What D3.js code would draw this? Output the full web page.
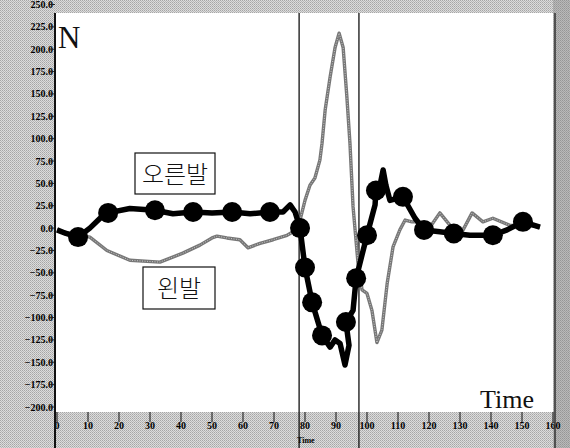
<!DOCTYPE html>
<html>
<head>
<meta charset="utf-8">
<script src="https://cdn.jsdelivr.net/npm/d3@7"></script>
<style>
  body { margin: 0; background: #fff; }
  svg { display: block; }
</style>
</head>
<body>
<div id="chart"></div>
<script>
// Right foot (오른발) force curve
const rightT = [0, 2.9, 6.8, 10.6, 13.9, 16.5, 23.5, 31.6, 37.4, 43.9, 50, 56.5, 62.3, 68.7, 72.9, 75.2, 76.8, 78.4,
  80, 82.3, 85.5, 88.1, 89.7, 91.3, 92.9, 94.2, 93.2, 95.5, 96.5, 98.4, 100, 102.6, 102.9, 104.2, 105.2, 106.1,
  107.4, 111.6, 115.5, 118.4, 123.5, 128, 133.2, 140.6, 145.2, 150.3, 155.8];
const rightV = [-2, -6, -10, 0, 11, 17, 22, 20, 16, 18, 17, 18, 16, 18, 18, 26, 18, 0,
  -44, -83, -120, -133, -125, -129, -153, -131, -105, -92, -56, -30, -8, 26, 42, 48, 65, 48,
  31, 35, 11, -2, -4, -6, -8, -8, -2, 7, 1];

// Dots drawn on the right foot curve
const rightDotT = [6.8, 16.5, 31.6, 43.9, 56.5, 68.7, 78.4, 80, 82.3, 85.5, 93.2, 96.5, 100, 102.9, 111.6, 118.4, 128, 140.6, 150.3];
const rightDotV = [-10, 17, 20, 18, 18, 18, 0, -44, -83, -120, -105, -56, -8, 42, 35, -2, -6, -8, 7];

// Left foot (왼발) force curve
const leftT = [0, 4.2, 10.6, 16.1, 23.5, 33.2, 40.6, 46.1, 50, 51.6, 54.8, 59, 61.6, 65.5, 69.7, 74.2, 76.8, 78.4,
  80, 81.6, 83.2, 84.8, 85.5, 86.5, 88.1, 89.7, 91, 92.3, 93.5, 94.5, 95.5, 97.1, 98.4, 100, 101.6, 103.2, 104.8,
  106.5, 108.4, 110.6, 112.3, 114.5, 116.1, 120.3, 123.5, 126.8, 131, 133.9, 137.4, 140.6, 146.1, 152.6, 155.8];
const leftV = [-2, -6, -10, -25, -36, -38, -28, -19, -11, -9, -11, -13, -22, -17, -13, -8, -3, 9,
  31, 48, 56, 76, 95, 132, 169, 202, 218, 202, 147, 95, 24, -39, -69, -73, -92, -128, -114,
  -62, -21, -2, 9, 7, 7, 1, 17, 3, -2, 17, 7, 11, 3, 3, 1];

// Event marker times (vertical lines)
const markerTimes = [78.1, 97.4];

// Tick values
const yTicks = d3.range(-200, 251, 25);
const xTicks = d3.range(0, 161, 10);

// Labels
const rightLabel = "오른발";
const leftLabel = "왼발";
const yUnit = "N";
const xUnit = "Time";

const W = 570, H = 448;
const plot = { left: 56, top: 13, right: 553, bottom: 412 };

const svg = d3.select("#chart")
  .append("svg")
  .attr("width", W)
  .attr("height", H);

// Halftone pattern for the gray frame
const defs = svg.append("defs");
const pat = defs.append("pattern")
  .attr("id", "tone")
  .attr("width", 2)
  .attr("height", 2)
  .attr("patternUnits", "userSpaceOnUse");
pat.append("rect").attr("width", 2).attr("height", 2).attr("fill", "#dcdcdc");
pat.append("rect").attr("width", 1).attr("height", 1).attr("fill", "#a6a6a6");
pat.append("rect").attr("x", 1).attr("y", 1).attr("width", 1).attr("height", 1).attr("fill", "#b8b8b8");

defs.append("clipPath")
  .attr("id", "clip")
  .append("rect")
  .attr("x", plot.left)
  .attr("y", plot.top)
  .attr("width", plot.right - plot.left)
  .attr("height", plot.bottom - plot.top);

svg.append("rect").attr("width", W).attr("height", H).attr("fill", "url(#tone)");
svg.append("rect").attr("x", plot.right).attr("width", W - plot.right).attr("height", H)
  .attr("fill", "#777").attr("opacity", 0.35);
svg.append("rect")
  .attr("x", plot.left)
  .attr("y", plot.top)
  .attr("width", plot.right - plot.left)
  .attr("height", plot.bottom - plot.top)
  .attr("fill", "#fff");

// Scales
const x = d3.scaleLinear().domain([0, 160]).range([57, 553]);
const y = d3.scaleLinear().domain([-200, 250]).range([407, 4.5]);

// Y axis labels
const fmt = d3.format(".1f");
svg.append("g")
  .selectAll("text")
  .data(yTicks)
  .enter()
  .append("text")
  .attr("x", 53)
  .attr("y", (d) => y(d) + 3.5)
  .attr("text-anchor", "end")
  .style("font-family", "Liberation Serif, serif")
  .style("font-weight", "bold")
  .style("font-size", "10px")
  .attr("fill", "#000")
  .text((d) => fmt(d));

svg.append("g")
  .selectAll("line")
  .data(yTicks)
  .enter()
  .append("line")
  .attr("x1", 49)
  .attr("x2", 55)
  .attr("y1", (d) => y(d))
  .attr("y2", (d) => y(d))
  .attr("stroke", "#222");

// X axis labels and ticks
const xg = svg.append("g");
xg.selectAll("line")
  .data(xTicks)
  .enter()
  .append("line")
  .attr("x1", (d) => x(d))
  .attr("x2", (d) => x(d))
  .attr("y1", plot.bottom)
  .attr("y2", plot.bottom + 10)
  .attr("stroke", "#111");
xg.selectAll("text")
  .data(xTicks)
  .enter()
  .append("text")
  .attr("x", (d) => x(d))
  .attr("y", 429)
  .attr("text-anchor", "middle")
  .style("font-family", "Liberation Serif, serif")
  .style("font-weight", "bold")
  .style("font-size", "10px")
  .attr("fill", "#000")
  .text((d) => d);

svg.append("text")
  .attr("x", 297)
  .attr("y", 443)
  .style("font-family", "Liberation Serif, serif")
  .style("font-weight", "bold")
  .style("font-size", "8px")
  .attr("fill", "#000")
  .text(xUnit);

// Left axis line and right frame line
svg.append("line").attr("x1", 55).attr("x2", 55).attr("y1", plot.top).attr("y2", H)
  .attr("stroke", "#111").attr("stroke-width", 2);
svg.append("line").attr("x1", 555).attr("x2", 555).attr("y1", plot.top).attr("y2", H)
  .attr("stroke", "#333").attr("stroke-width", 1.5);

// Event markers
svg.append("g")
  .selectAll("line")
  .data(markerTimes)
  .enter()
  .append("line")
  .attr("x1", (d) => x(d))
  .attr("x2", (d) => x(d))
  .attr("y1", plot.top)
  .attr("y2", H)
  .attr("stroke", "#111")
  .attr("stroke-width", 1.3);

const g = svg.append("g").attr("clip-path", "url(#clip)");

const line = d3.line()
  .x((d) => x(d[0]))
  .y((d) => y(d[1]));

const leftData = leftT.map((t, i) => [t, leftV[i]]);
const rightData = rightT.map((t, i) => [t, rightV[i]]);

// Left foot: gray textured line
g.append("path")
  .datum(leftData)
  .attr("d", line)
  .attr("fill", "none")
  .attr("stroke", "#777")
  .attr("stroke-width", 3.4)
  .attr("stroke-linejoin", "round");
g.append("path")
  .datum(leftData)
  .attr("d", line)
  .attr("fill", "none")
  .attr("stroke", "#c8c8c8")
  .attr("stroke-width", 1)
  .attr("stroke-dasharray", "1,1.5");

// Right foot: thick black line with dots
g.append("path")
  .datum(rightData)
  .attr("d", line)
  .attr("fill", "none")
  .attr("stroke", "#000")
  .attr("stroke-width", 5.5)
  .attr("stroke-linejoin", "round");

g.selectAll(".dot")
  .data(rightDotT)
  .enter()
  .append("circle")
  .attr("class", "dot")
  .attr("cx", (d) => x(d))
  .attr("cy", (d, i) => y(rightDotV[i]))
  .attr("r", 10)
  .attr("fill", "#000");

// Series labels in boxes
function boxLabel(txt, bx, by, bw, bh) {
  svg.append("rect")
    .attr("x", bx).attr("y", by).attr("width", bw).attr("height", bh)
    .attr("fill", "#fff").attr("stroke", "#111").attr("stroke-width", 1.2);
  svg.append("text")
    .attr("x", bx + bw / 2)
    .attr("y", by + bh / 2 + 9)
    .attr("text-anchor", "middle")
    .style("font-family", "Noto Sans CJK KR, sans-serif")
    .style("font-weight", 300)
    .style("font-size", "24px")
    .attr("fill", "#111")
    .text(txt);
}
boxLabel(rightLabel, 135, 153, 80, 41);
boxLabel(leftLabel, 143, 267, 72, 42);

// Unit labels
svg.append("text")
  .attr("x", 58)
  .attr("y", 48)
  .style("font-family", "Liberation Serif, serif")
  .style("font-size", "31px")
  .attr("fill", "#111")
  .text(yUnit);

svg.append("text")
  .attr("x", 480)
  .attr("y", 408)
  .style("font-family", "Liberation Serif, serif")
  .style("font-size", "26px")
  .attr("fill", "#111")
  .text(xUnit);
</script>
</body>
</html>
